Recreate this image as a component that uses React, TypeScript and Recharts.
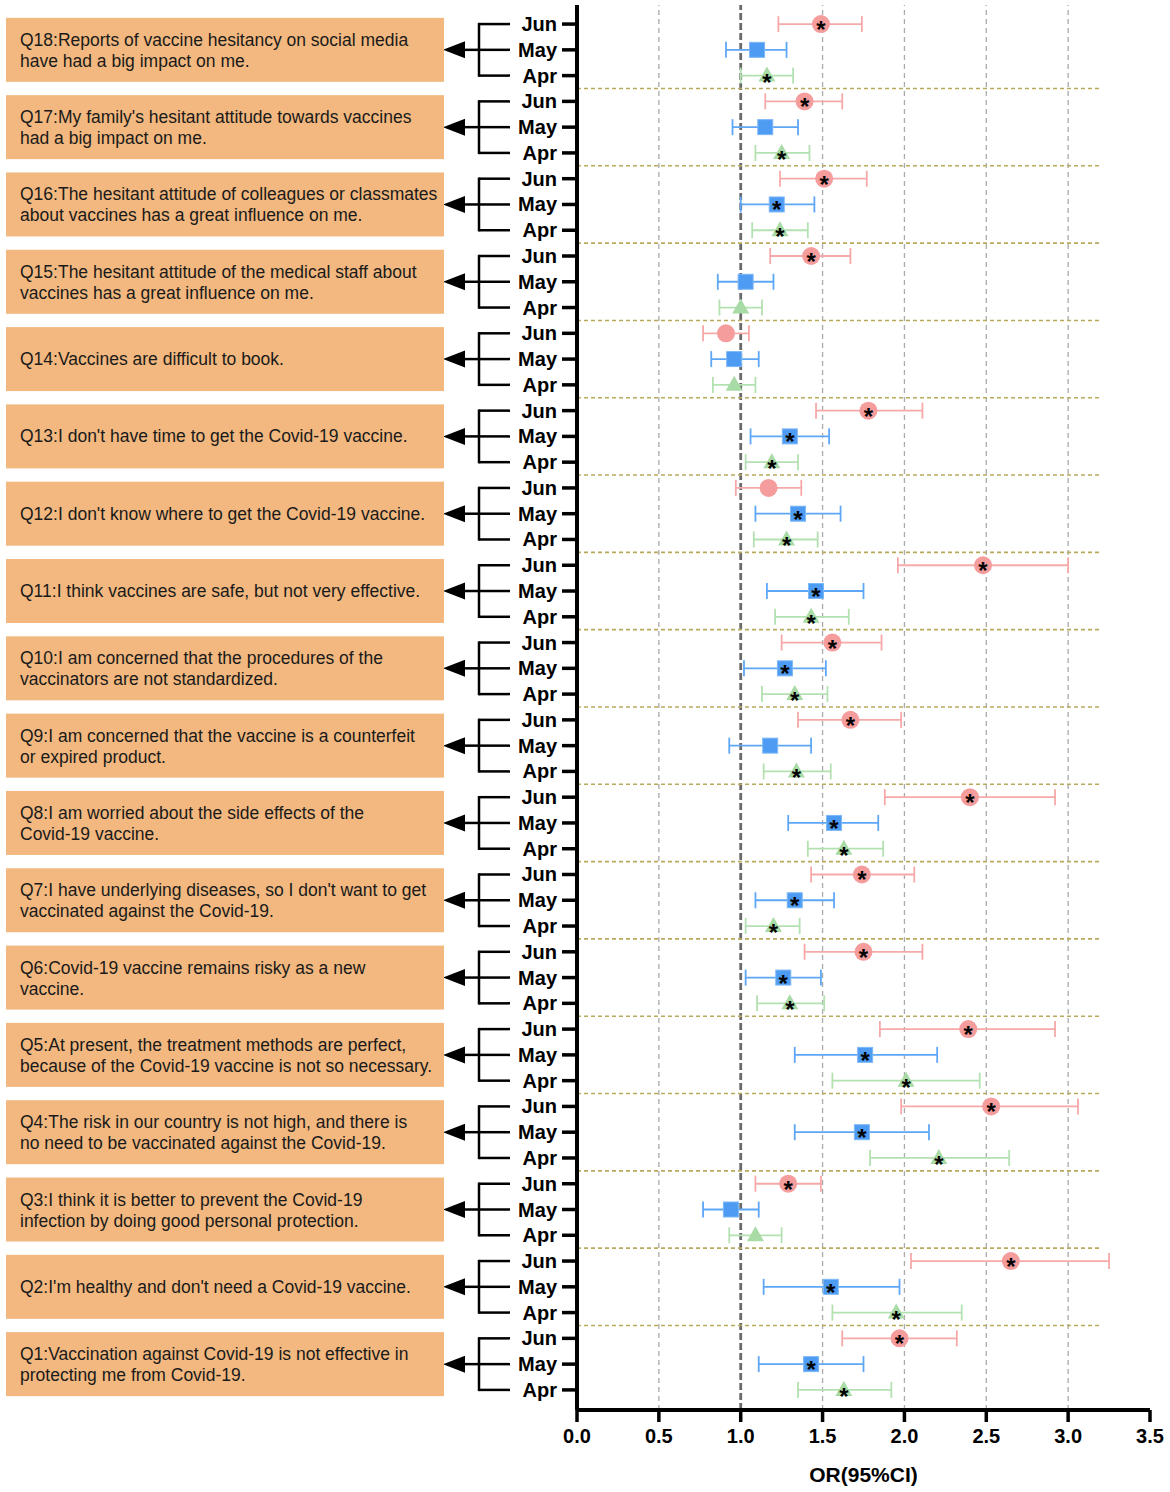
import { ScatterChart, Scatter, XAxis, YAxis, ErrorBar, ReferenceLine, Label } from 'recharts';

const questions = [
  "Q18:Reports of vaccine hesitancy on social media\nhave had a big impact on me.",
  "Q17:My family's hesitant attitude towards vaccines\nhad a big impact on me.",
  "Q16:The hesitant attitude of colleagues or classmates\nabout vaccines has a great influence on me.",
  "Q15:The hesitant attitude of the medical staff about\nvaccines has a great influence on me.",
  "Q14:Vaccines are difficult to book.",
  "Q13:I don't have time to get the Covid-19 vaccine.",
  "Q12:I don't know where to get the Covid-19 vaccine.",
  "Q11:I think vaccines are safe, but not very effective.",
  "Q10:I am concerned that the procedures of the\nvaccinators are not standardized.",
  "Q9:I am concerned that the vaccine is a counterfeit\nor expired product.",
  "Q8:I am worried about the side effects of the\nCovid-19 vaccine.",
  "Q7:I have underlying diseases, so I don't want to get\nvaccinated against the Covid-19.",
  "Q6:Covid-19 vaccine remains risky as a new\nvaccine.",
  "Q5:At present, the treatment methods are perfect,\nbecause of the Covid-19 vaccine is not so necessary.",
  "Q4:The risk in our country is not high, and there is\nno need to be vaccinated against the Covid-19.",
  "Q3:I think it is better to prevent the Covid-19\ninfection by doing good personal protection.",
  "Q2:I'm healthy and don't need a Covid-19 vaccine.",
  "Q1:Vaccination against Covid-19 is not effective in\nprotecting me from Covid-19.",
];
const months = ['Jun', 'May', 'Apr'];

const junOR = [1.49, 1.39, 1.51, 1.43, 0.91, 1.78, 1.17, 2.48, 1.56, 1.67, 2.4, 1.74, 1.75, 2.39, 2.53, 1.29, 2.65, 1.97];
const junLow = [1.23, 1.15, 1.24, 1.18, 0.77, 1.46, 0.97, 1.96, 1.25, 1.35, 1.88, 1.43, 1.39, 1.85, 1.98, 1.09, 2.04, 1.62];
const junHigh = [1.74, 1.62, 1.77, 1.67, 1.05, 2.11, 1.37, 3.0, 1.86, 1.98, 2.92, 2.06, 2.11, 2.92, 3.06, 1.49, 3.25, 2.32];
const junSig = [1, 1, 1, 1, 0, 1, 0, 1, 1, 1, 1, 1, 1, 1, 1, 1, 1, 1];

const mayOR = [1.1, 1.15, 1.22, 1.03, 0.96, 1.3, 1.35, 1.46, 1.27, 1.18, 1.57, 1.33, 1.26, 1.76, 1.74, 0.94, 1.55, 1.43];
const mayLow = [0.91, 0.95, 1.0, 0.86, 0.82, 1.06, 1.09, 1.16, 1.02, 0.93, 1.29, 1.09, 1.03, 1.33, 1.33, 0.77, 1.14, 1.11];
const mayHigh = [1.28, 1.35, 1.45, 1.2, 1.11, 1.54, 1.61, 1.75, 1.52, 1.43, 1.84, 1.57, 1.49, 2.2, 2.15, 1.11, 1.97, 1.75];
const maySig = [0, 0, 1, 0, 0, 1, 1, 1, 1, 0, 1, 1, 1, 1, 1, 0, 1, 1];

const aprOR = [1.16, 1.25, 1.24, 1.0, 0.96, 1.19, 1.28, 1.43, 1.33, 1.34, 1.63, 1.2, 1.3, 2.01, 2.21, 1.09, 1.95, 1.63];
const aprLow = [1.0, 1.09, 1.07, 0.87, 0.83, 1.03, 1.08, 1.21, 1.13, 1.14, 1.41, 1.03, 1.1, 1.56, 1.79, 0.93, 1.56, 1.35];
const aprHigh = [1.32, 1.42, 1.41, 1.13, 1.09, 1.35, 1.47, 1.66, 1.53, 1.55, 1.87, 1.36, 1.51, 2.46, 2.64, 1.25, 2.35, 1.92];
const aprSig = [1, 1, 1, 0, 0, 1, 1, 1, 1, 1, 1, 1, 1, 1, 1, 0, 1, 1];

const xTicks = [0, 0.5, 1, 1.5, 2, 2.5, 3, 3.5];
const gridValues = [0.5, 1.5, 2, 2.5, 3];
const refValue = 1;
const separatorEnd = 3.19;

const W = 1170;
const H = 1492;
const MARGIN = { top: 5, right: 20, bottom: 0, left: 0 };
const X_AXIS_H = 82;
const Y_AXIS_W = 577;
const Y_MIN = -0.74;
const Y_MAX = 53.78;
const TICK_SIZE = 15;
const TICK_MARGIN = 3;
const ROW_PX = (H - MARGIN.top - MARGIN.bottom - X_AXIS_H) / (Y_MAX - Y_MIN);

const COLORS = {
  Jun: { mark: '#F59D9D', bar: '#F7A9A9' },
  May: { mark: '#4D9BF2', bar: '#5EA7F6' },
  Apr: { mark: '#A8DBA5', bar: '#B4E1B1' },
};

function build(or: number[], lo: number[], hi: number[], sig: number[], m: number) {
  return or.map((v, q) => ({ x: v, y: q * 3 + m, err: [v - lo[q], hi[q] - v], sig: sig[q] === 1 }));
}

const junData = build(junOR, junLow, junHigh, junSig, 0);
const mayData = build(mayOR, mayLow, mayHigh, maySig, 1);
const aprData = build(aprOR, aprLow, aprHigh, aprSig, 2);

const rowTicks = questions.flatMap((_, q) => months.map((__, m) => q * 3 + m));
const separators = questions.slice(1).map((_, q) => q * 3 + 2.5);

function Star({ cx, cy }: { cx: number; cy: number }) {
  return (
    <text x={cx} y={cy + 14} textAnchor="middle" fontSize={24} fontWeight="bold" fill="#000">*</text>
  );
}

const CircleShape = (p: any) => (
  <g>
    <circle cx={p.cx} cy={p.cy} r={9} fill={COLORS.Jun.mark} />
    {p.payload.sig && <Star cx={p.cx} cy={p.cy} />}
  </g>
);
const SquareShape = (p: any) => (
  <g>
    <rect x={p.cx - 7.5} y={p.cy - 7.5} width={15} height={15} fill={COLORS.May.mark} stroke="#7DB8F7" strokeWidth={1} />
    {p.payload.sig && <Star cx={p.cx} cy={p.cy} />}
  </g>
);
const TriangleShape = (p: any) => (
  <g>
    <polygon points={`${p.cx},${p.cy - 9} ${p.cx - 8.5},${p.cy + 6} ${p.cx + 8.5},${p.cy + 6}`} fill={COLORS.Apr.mark} />
    {p.payload.sig && <Star cx={p.cx} cy={p.cy + 1} />}
  </g>
);

function YTick(props: any) {
  const { x, y, payload } = props;
  const row = payload.value as number;
  const q = Math.floor(row / 3);
  const m = row % 3;
  const axisX = x + TICK_SIZE + TICK_MARGIN;
  const bx = axisX - 98;
  const bEnd = axisX - 67;
  const lines = questions[q].split('\n');
  return (
    <g>
      <text x={x - 2} y={y + 7} textAnchor="end" fontSize={20} fontWeight="bold" fill="#000">{months[m]}</text>
      <line x1={bx} x2={bEnd} y1={y} y2={y} stroke="#000" strokeWidth={2.5} />
      {m === 0 && <line x1={bx} x2={bx} y1={y - 1.2} y2={y + ROW_PX} stroke="#000" strokeWidth={2.5} />}
      {m === 2 && <line x1={bx} x2={bx} y1={y - ROW_PX} y2={y + 1.2} stroke="#000" strokeWidth={2.5} />}
      {m === 1 && (
        <g>
          <line x1={axisX - 114} x2={bx} y1={y} y2={y} stroke="#000" strokeWidth={2.5} />
          <polygon points={`${axisX - 134},${y} ${axisX - 112},${y - 8.5} ${axisX - 112},${y + 8.5}`} fill="#000" />
          <rect x={6} y={y - 32} width={axisX - 139} height={64} fill="#F2B87F" />
          {lines.length === 1 ? (
            <text x={20} y={y + 6} fontSize={17.5} fill="#1a1a1a">{lines[0]}</text>
          ) : (
            <text x={20} y={y - 4} fontSize={17.5} fill="#1a1a1a">
              <tspan x={20}>{lines[0]}</tspan>
              <tspan x={20} dy={21}>{lines[1]}</tspan>
            </text>
          )}
        </g>
      )}
    </g>
  );
}

export default function App() {
  return (
    <div style={{ position: 'absolute', left: 0, top: 0, width: W, height: H, background: '#fff', fontFamily: '"Liberation Sans", Arial, sans-serif' }}>
      <ScatterChart width={W} height={H} margin={MARGIN}>
        <XAxis
          type="number"
          dataKey="x"
          domain={[0, 3.5]}
          ticks={xTicks}
          tickFormatter={(v: number) => v.toFixed(1)}
          height={X_AXIS_H}
          tickSize={12}
          tickMargin={7}
          axisLine={{ stroke: '#000', strokeWidth: 4 }}
          tickLine={{ stroke: '#000', strokeWidth: 3.5 }}
          tick={{ fontSize: 20, fontWeight: 'bold', fill: '#000' }}
        >
          <Label value="OR(95%CI)" position="insideBottom" offset={10} style={{ fontSize: 21, fontWeight: 'bold', fill: '#000' }} />
        </XAxis>
        <YAxis
          type="number"
          dataKey="y"
          domain={[Y_MIN, Y_MAX]}
          reversed
          ticks={rowTicks}
          interval={0}
          width={Y_AXIS_W}
          tickSize={TICK_SIZE}
          tickMargin={TICK_MARGIN}
          axisLine={{ stroke: '#000', strokeWidth: 4 }}
          tickLine={{ stroke: '#000', strokeWidth: 3.5 }}
          tick={<YTick />}
        />
        {gridValues.map((v) => (
          <ReferenceLine key={v} x={v} stroke="#aaaaaa" strokeWidth={1.3} strokeDasharray="5 4" />
        ))}
        <ReferenceLine x={refValue} stroke="#6a6a6a" strokeWidth={2.8} strokeDasharray="7 3" />
        {separators.map((s) => (
          <ReferenceLine key={s} segment={[{ x: 0, y: s }, { x: separatorEnd, y: s }]} stroke="#B8AA5C" strokeWidth={1.6} strokeDasharray="4 3" />
        ))}
        <Scatter name="Jun" data={junData} shape={CircleShape} isAnimationActive={false}>
          <ErrorBar dataKey="err" direction="x" width={8} stroke={COLORS.Jun.bar} strokeWidth={1.8} />
        </Scatter>
        <Scatter name="May" data={mayData} shape={SquareShape} isAnimationActive={false}>
          <ErrorBar dataKey="err" direction="x" width={8} stroke={COLORS.May.bar} strokeWidth={1.8} />
        </Scatter>
        <Scatter name="Apr" data={aprData} shape={TriangleShape} isAnimationActive={false}>
          <ErrorBar dataKey="err" direction="x" width={8} stroke={COLORS.Apr.bar} strokeWidth={1.8} />
        </Scatter>
      </ScatterChart>
    </div>
  );
}
